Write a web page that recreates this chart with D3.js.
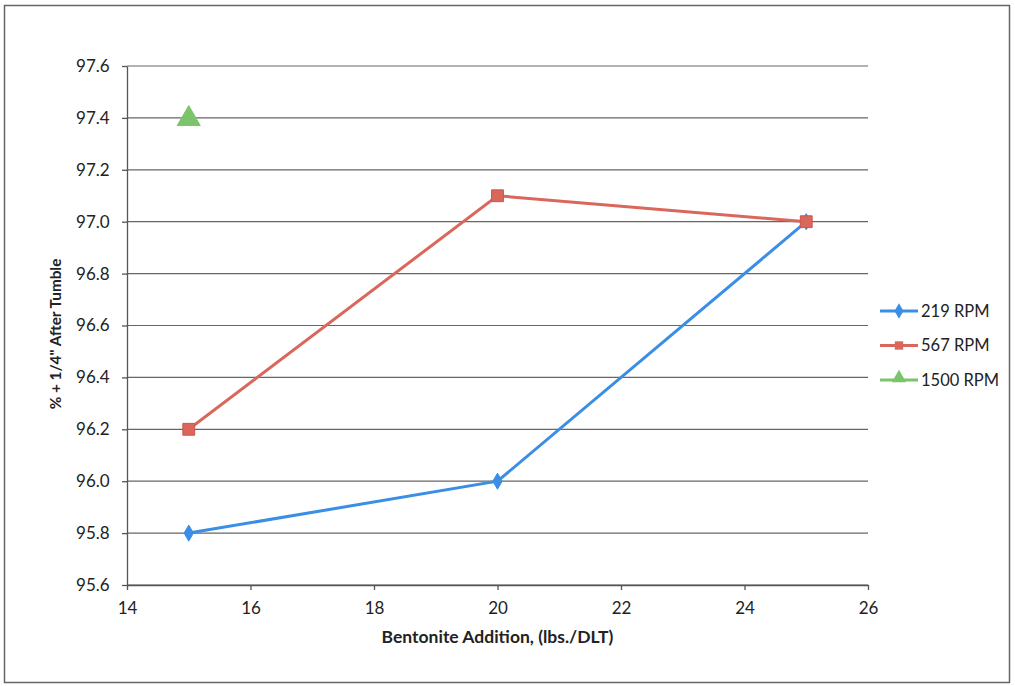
<!DOCTYPE html>
<html><head><meta charset="utf-8">
<script src="https://cdn.jsdelivr.net/npm/d3@7"></script>
<style>body{margin:0;background:#fff}svg{display:block}text{font-family:Lato,"Open Sans",sans-serif}</style>
</head><body><svg id="c" width="1015" height="686"></svg>
<script>
const xTicks=[14,16,18,20,22,24,26];
const yTicks=[95.6,95.8,96.0,96.2,96.4,96.6,96.8,97.0,97.2,97.4,97.6];
const rpm219=[[15,95.8],[20,96.0],[25,97.0]];
const rpm567=[[15,96.2],[20,97.1],[25,97.0]];
const rpm1500=[[15,97.4]];
const seriesNames=["219 RPM","567 RPM","1500 RPM"];
const colors=["#3a8ee6","#d9675c","#7cc46a"];
const series=[rpm219,rpm567,rpm1500];
const symbols=[d3.symbolDiamond,d3.symbolSquare,d3.symbolTriangle];
const symSize=[75,140,230];

const svg=d3.select("#c");
svg.append("rect").attr("x",4.5).attr("y",5.5).attr("width",1005).attr("height",677).attr("fill","none").attr("stroke","#666").attr("stroke-width",1.5);
const x=d3.scaleLinear().domain([14,26]).range([127,868]);
const y=d3.scaleLinear().domain([95.6,97.6]).range([585,66]);
svg.append("g").selectAll("line").data(yTicks).join("line")
 .attr("x1",x(14)).attr("x2",x(26)).attr("y1",d=>y(d)).attr("y2",d=>y(d))
 .attr("stroke","#666").attr("stroke-width",1.2);
const xa=svg.append("g").attr("transform",`translate(0,${y(95.6)})`)
 .call(d3.axisBottom(x).tickValues(xTicks).tickFormat(d3.format("d")).tickSize(5).tickSizeOuter(0));
const ya=svg.append("g").attr("transform",`translate(${x(14)},0)`)
 .call(d3.axisLeft(y).tickValues(yTicks).tickFormat(d3.format(".1f")).tickSize(5).tickSizeOuter(0));
[xa,ya].forEach(a=>{a.select(".domain").attr("stroke","#555").attr("stroke-width",1.3);
 a.selectAll(".tick line").attr("stroke","#555").attr("stroke-width",1.3);
 a.selectAll("text").attr("font-size",17).attr("fill","#222").attr("font-family","Lato,'Open Sans',sans-serif");});
xa.selectAll("text").attr("dy","1.25em");
ya.selectAll("text").attr("dx","-0.55em");
svg.append("text").attr("x",(x(14)+x(26))/2).attr("y",643).attr("text-anchor","middle")
 .attr("font-size",17.5).attr("font-weight","bold").attr("fill","#222").text("Bentonite Addition, (lbs./DLT)");
svg.append("text").attr("transform",`translate(61,334) rotate(-90)`).attr("text-anchor","middle")
 .attr("font-size",15.3).attr("font-weight","bold").attr("fill","#222").text("% + 1/4\" After Tumble");
const line=d3.line().x(d=>x(d[0])).y(d=>y(d[1]));
series.forEach((s,i)=>{
 svg.append("path").datum(s).attr("d",line).attr("fill","none").attr("stroke",colors[i]).attr("stroke-width",3);
 svg.append("g").selectAll("path").data(s).join("path")
  .attr("transform",d=>`translate(${x(d[0])},${y(d[1])+(i==2?1:0)})`)
  .attr("d",d3.symbol(symbols[i],symSize[i])).attr("fill",colors[i]).attr("stroke",i==1?"#c9574c":colors[i]).attr("stroke-width",1);
});
seriesNames.forEach((n,i)=>{
 const ly=311+i*34.5;
 const g=svg.append("g");
 g.append("line").attr("x1",880).attr("x2",918).attr("y1",ly).attr("y2",ly).attr("stroke",colors[i]).attr("stroke-width",3);
 g.append("path").attr("transform",`translate(899,${ly+(i==2?-2:0)})`).attr("d",d3.symbol(symbols[i],i==2?90:70)).attr("fill",colors[i]);
 g.append("text").attr("x",921).attr("y",ly+5.5).attr("font-size",16.5).attr("fill","#222").text(n);
});
</script></body></html>
